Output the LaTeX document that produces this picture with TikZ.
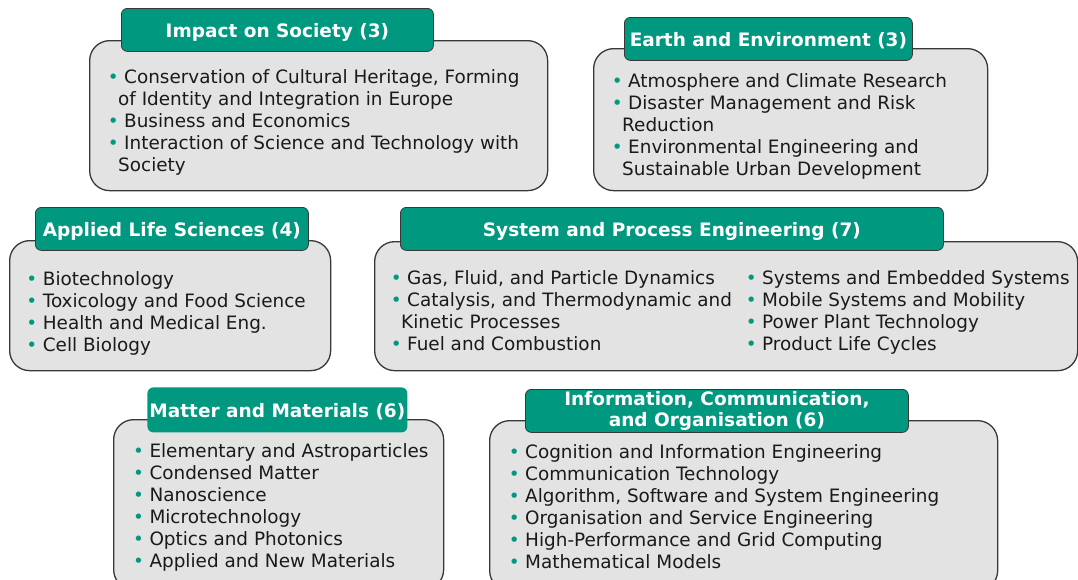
\documentclass[tikz,border=0pt]{standalone}
\usepackage{fontspec}
\setmainfont{DejaVu Sans}
\definecolor{FieldTeal}{HTML}{00987F}
\definecolor{FieldGrey}{HTML}{E3E3E3}
\definecolor{FieldEdge}{HTML}{383838}
\definecolor{FieldText}{HTML}{1A1A1A}
\newcommand{\bul}{\strut\makebox[22pt][c]{\color{FieldTeal}\textbullet}}
\newcommand{\cont}{\hspace*{16pt}}

\begin{document}
\begin{tikzpicture}[x=1pt, y=-1pt, every node/.style={inner sep=0pt, font=\fontsize{18.4}{22}\selectfont},
  panel/.style={draw=FieldEdge, line width=1.3pt, fill=FieldGrey, rounded corners=20pt, anchor=north west},
  head/.style={draw=FieldEdge, line width=0.8pt, fill=FieldTeal, rounded corners=6pt, anchor=north west, text=white, font=\bfseries\fontsize{18.5}{21}\selectfont, align=center},
  headone/.style={head, text height=15pt, text depth=0pt},
  items/.style={anchor=north west, align=left, text=FieldText}]
\clip (0,0) rectangle (1078,579);
% grey panels
\foreach \name/\x/\y/\w/\h in {impact/89/40/458/150, earth/593/48/394/142, life/9/240/321/130, process/374/241/703/129, matter/113/419/330/170, info/489/420/508/170}{
  \node[panel, minimum width=\w pt, minimum height=\h pt] (\name) at (\x,\y) {};
}
% teal headers
\node[headone, minimum width=312pt, minimum height=43pt] (impacthead) at (121,8) {Impact on Society (3)};
\node[headone, minimum width=288pt, minimum height=43pt] (earthhead) at (624,17) {Earth and Environment (3)};
\node[headone, minimum width=273pt, minimum height=43pt] (lifehead) at (35,207) {Applied Life Sciences (4)};
\node[headone, minimum width=543pt, minimum height=43pt] (processhead) at (400,207) {System and Process Engineering (7)};
\node[headone, draw=none, minimum width=260pt, minimum height=45pt] (matterhead) at (147,387) {Matter and Materials (6)};
\node[head, minimum width=383pt, minimum height=43pt] (infohead) at (525,389) {Information, Communication,\\and Organisation (6)};
% lists
\node[items] (impactlist) at (102,68) {\bul Conservation of Cultural Heritage, Forming\\\cont of Identity and Integration in Europe\\\bul Business and Economics\\\bul Interaction of Science and Technology with\\\cont Society};
\node[items] (earthlist) at (606,72) {\bul Atmosphere and Climate Research\\\bul Disaster Management and Risk\\\cont Reduction\\\bul Environmental Engineering and\\\cont Sustainable Urban Development};
\node[items] (lifelist) at (20.7,269.6) {\bul Biotechnology\\\bul Toxicology and Food Science\\\bul Health and Medical Eng.\\\bul Cell Biology};
\node[items] (processleft) at (385,268.6) {\bul Gas, Fluid, and Particle Dynamics\\\bul Catalysis, and Thermodynamic and\\\cont Kinetic Processes\\\bul Fuel and Combustion};
\node[items] (processright) at (740,268.6) {\bul Systems and Embedded Systems\\\bul Mobile Systems and Mobility\\\bul Power Plant Technology\\\bul Product Life Cycles};
\node[items] (matterlist) at (127.3,442) {\bul Elementary and Astroparticles\\\bul Condensed Matter\\\bul Nanoscience\\\bul Microtechnology\\\bul Optics and Photonics\\\bul Applied and New Materials};
\node[items] (infolist) at (503,442.6) {\bul Cognition and Information Engineering\\\bul Communication Technology\\\bul Algorithm, Software and System Engineering\\\bul Organisation and Service Engineering\\\bul High-Performance and Grid Computing\\\bul Mathematical Models};
\end{tikzpicture}
\end{document}
